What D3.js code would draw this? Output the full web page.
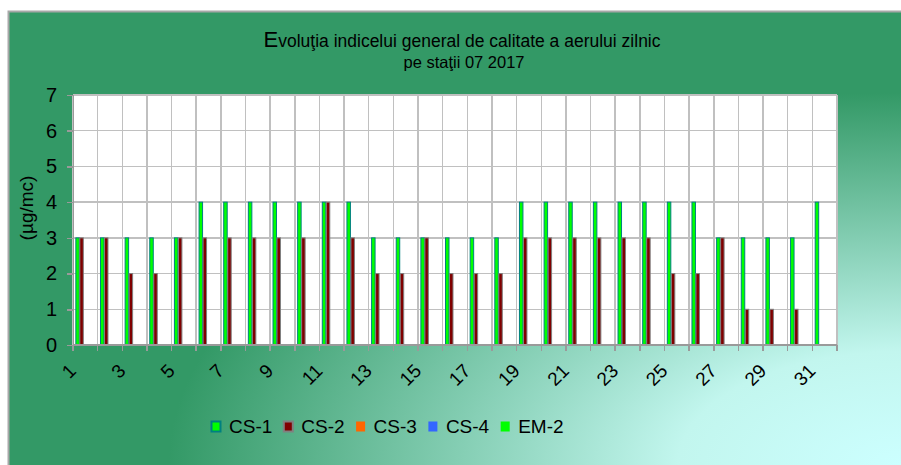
<!DOCTYPE html>
<html>
<head>
<meta charset="utf-8">
<style>
  body { margin: 0; background: #fff; }
  svg { display: block; font-family: "Liberation Sans", Arial, sans-serif; }
  .grid line { stroke: #c0c0c0; stroke-width: 1.5; shape-rendering: crispEdges; }
  .axis path, .axis line { stroke: #9a9a9a; stroke-width: 1.5; shape-rendering: crispEdges; }
  .axis text { fill: #000; }
</style>
</head>
<body>
<svg width="901" height="465"></svg>
<script src="https://d3js.org/d3.v7.min.js"></script>
<script>
// data
var days = [1,2,3,4,5,6,7,8,9,10,11,12,13,14,15,16,17,18,19,20,21,22,23,24,25,26,27,28,29,30,31];
var cs1 = [3,3,3,3,3,4,4,4,4,4,4,4,3,3,3,3,3,3,4,4,4,4,4,4,4,4,3,3,3,3,4];
var cs2 = [3,3,2,2,3,3,3,3,3,3,4,3,2,2,3,2,2,2,3,3,3,3,3,3,2,2,3,1,1,1,null];
var cs3 = [];
var cs4 = [];
var em2 = [];
var seriesNames = ["CS-1", "CS-2", "CS-3", "CS-4", "EM-2"];
var yTicks = [0,1,2,3,4,5,6,7];

var fills   = {"CS-1": "#00ff00", "CS-2": "#800000", "CS-3": "#ff6600", "CS-4": "#3366ff", "EM-2": "#00ff00"};
var strokes = {"CS-1": "#008080", "CS-2": "#808080", "CS-3": "none", "CS-4": "none", "EM-2": "none"};

var svg = d3.select("svg");

// background gradient from the bottom-right corner
var defs = svg.append("defs");
var grad = defs.append("radialGradient")
  .attr("id", "bg")
  .attr("cx", 1).attr("cy", 1).attr("r", 1)
  .attr("fx", 1).attr("fy", 1);
grad.append("stop").attr("offset", 0).attr("stop-color", "#ccffff");
grad.append("stop").attr("offset", 0.25).attr("stop-color", "#c2f6ee");
grad.append("stop").attr("offset", 0.82).attr("stop-color", "#339966");
grad.append("stop").attr("offset", 1).attr("stop-color", "#339966");

svg.append("rect")
  .attr("x", 8).attr("y", 11)
  .attr("width", 893).attr("height", 454)
  .attr("fill", "url(#bg)");
svg.append("path")
  .attr("d", "M8.5,465V11.5H901")
  .attr("fill", "none")
  .attr("stroke", "#a8a8a8")
  .attr("stroke-width", 2);

// title
var title = svg.append("text")
  .attr("x", 462).attr("y", 47)
  .attr("text-anchor", "middle")
  .attr("font-size", 17.5);
title.append("tspan").attr("font-size", 22).text("E");
title.append("tspan").text("voluţia indicelui general de calitate a aerului zilnic");
svg.append("text")
  .attr("x", 464).attr("y", 68)
  .attr("text-anchor", "middle")
  .attr("font-size", 16.5)
  .text("pe staţii 07 2017");

var plotLeft = 73, plotRight = 837, plotTop = 95, plotBottom = 345;

var x0 = d3.scaleBand()
  .domain(days)
  .range([plotLeft, plotRight])
  .paddingInner(0.19)
  .paddingOuter(0.095);

var x1 = d3.scaleBand()
  .domain(seriesNames)
  .range([0, x0.bandwidth()]);

var y = d3.scaleLinear()
  .domain([0, 7])
  .range([plotBottom, plotTop]);

// plot area
svg.append("rect")
  .attr("x", plotLeft).attr("y", plotTop)
  .attr("width", plotRight - plotLeft).attr("height", plotBottom - plotTop)
  .attr("fill", "#fff");

var step = x0.step();
var grid = svg.append("g").attr("class", "grid");
grid.selectAll("line.h")
  .data(yTicks)
  .enter().append("line")
  .attr("x1", plotLeft).attr("x2", plotRight)
  .attr("y1", function(d) { return y(d); })
  .attr("y2", function(d) { return y(d); });
grid.selectAll("line.v")
  .data(d3.range(days.length + 1))
  .enter().append("line")
  .attr("x1", function(i) { return plotLeft + i * step; })
  .attr("x2", function(i) { return plotLeft + i * step; })
  .attr("y1", plotTop).attr("y2", plotBottom);

// bars
var values = {"CS-1": cs1, "CS-2": cs2, "CS-3": cs3, "CS-4": cs4, "EM-2": em2};
var rows = [];
seriesNames.forEach(function(k) {
  days.forEach(function(d, i) {
    var v = values[k][i];
    if (v != null) rows.push({key: k, day: d, value: v});
  });
});

svg.append("g")
  .selectAll("rect")
  .data(rows)
  .enter().append("rect")
  .attr("x", function(d) { return x0(d.day) + x1(d.key) + 0.5; })
  .attr("y", function(d) { return y(d.value); })
  .attr("width", x1.bandwidth() - 0.5)
  .attr("height", function(d) { return y(0) - y(d.value); })
  .attr("fill", function(d) { return fills[d.key]; })
  .attr("stroke", function(d) { return strokes[d.key]; })
  .attr("stroke-width", 1);

// y axis
var yAxis = svg.append("g")
  .attr("class", "axis")
  .attr("transform", "translate(" + plotLeft + ",0)")
  .call(d3.axisLeft(y).tickValues(yTicks).tickFormat(d3.format("d")).tickSize(6).tickPadding(10));
yAxis.selectAll("text").attr("font-size", 20).attr("font-family", "Liberation Sans, Arial, sans-serif");

// x axis: ticks on category boundaries, labels on odd days
var xAxis = svg.append("g").attr("class", "axis");
xAxis.append("line")
  .attr("x1", plotLeft).attr("x2", plotRight)
  .attr("y1", plotBottom).attr("y2", plotBottom);
xAxis.selectAll("line.tick")
  .data(d3.range(days.length + 1))
  .enter().append("line")
  .attr("x1", function(i) { return plotLeft + i * step; })
  .attr("x2", function(i) { return plotLeft + i * step; })
  .attr("y1", plotBottom).attr("y2", plotBottom + 6);
xAxis.selectAll("text")
  .data(days.filter(function(d) { return d % 2 === 1; }))
  .enter().append("text")
  .attr("transform", function(d) {
    var cx = x0(d) + x0.bandwidth() / 2;
    return "translate(" + (cx - 8) + "," + (plotBottom + 27) + ") rotate(-45)";
  })
  .attr("text-anchor", "end")
  .attr("font-size", 19)
  .text(function(d) { return d; });

// y title
svg.append("text")
  .attr("transform", "translate(33,208) rotate(-90)")
  .attr("text-anchor", "middle")
  .attr("font-size", 19)
  .text("(µg/mc)");

// legend
var lx = 211;
var legend = svg.append("g");
seriesNames.forEach(function(k) {
  var g = legend.append("g").attr("transform", "translate(" + lx + ",421)");
  g.append("rect")
    .attr("x", 0.5).attr("y", 0.5)
    .attr("width", 9).attr("height", 10)
    .attr("fill", fills[k])
    .attr("stroke", strokes[k] === "none" ? "none" : strokes[k])
    .attr("stroke-width", 2);
  var t = g.append("text")
    .attr("x", 18).attr("y", 12)
    .attr("font-size", 19)
    .text(k);
  lx += 18 + t.node().getComputedTextLength() + 11;
});
</script>
</body>
</html>
